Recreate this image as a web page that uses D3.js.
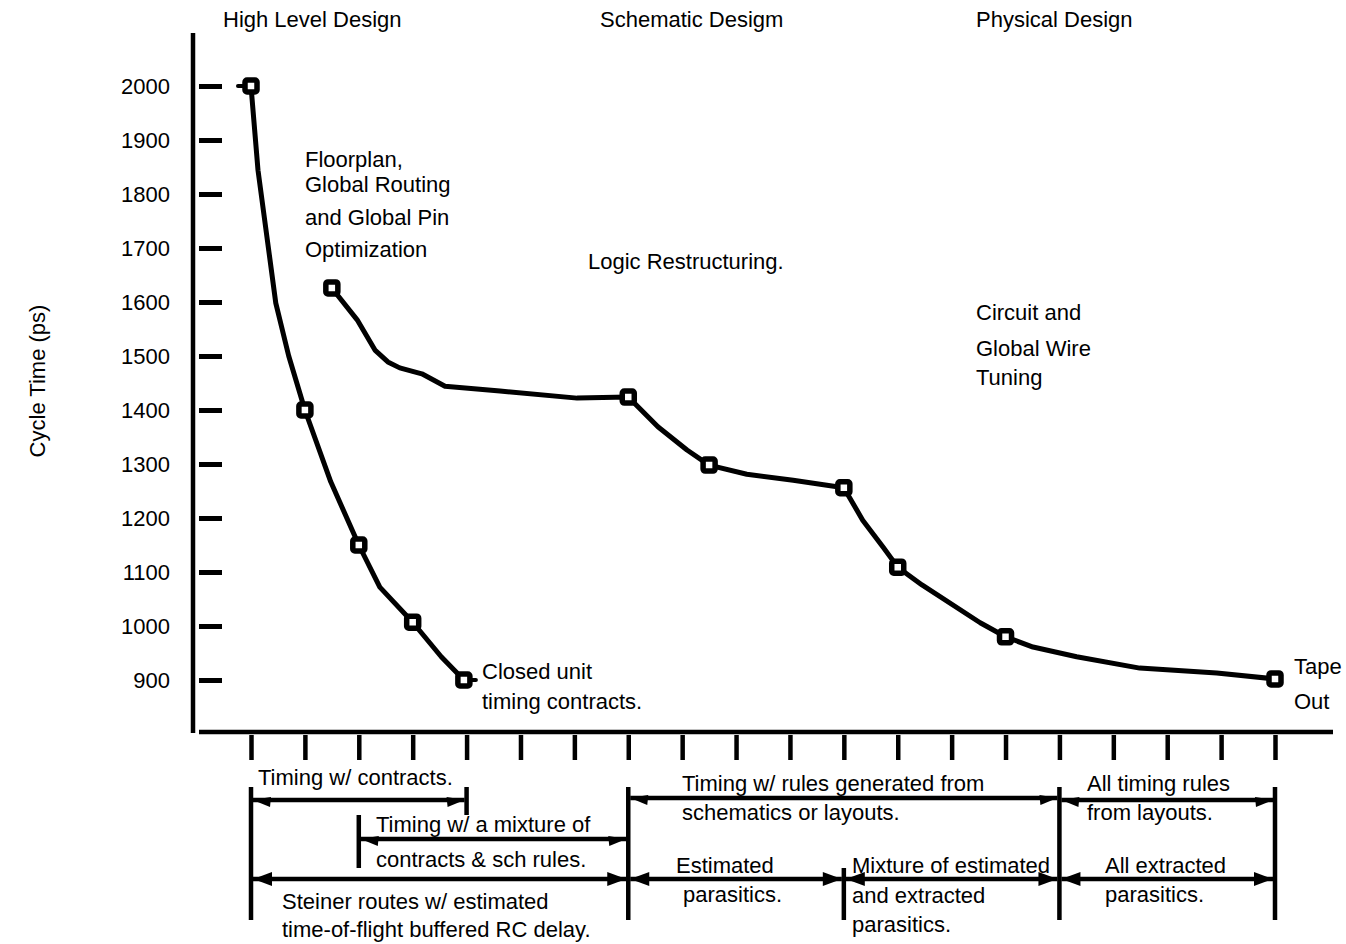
<!DOCTYPE html>
<html><head><meta charset="utf-8">
<script src="https://cdn.jsdelivr.net/npm/d3@7/dist/d3.min.js"></script>
<style>
html,body{margin:0;padding:0;background:#fff;}
svg{display:block;}
text{font-family:"Liberation Sans",Arial,sans-serif;font-size:22px;fill:#000;}
</style></head>
<body>
<svg id="chart" width="1346" height="944"></svg>
<script>
// ---------- data ----------
const yTicks = [2000,1900,1800,1700,1600,1500,1400,1300,1200,1100,1000,900];
const xTicks = [0,1,2,3,4,5,6,7,8,9,10,11,12,13,14,15,16,17,18,19];
// curve 1: [step index, cycle time ps]
const curve1 = [[0,2000],[0.13,1844],[0.46,1598],[0.70,1500],[1,1400],[1.48,1267],[2,1150],[2.39,1072],[3,1007],[3.53,943],[3.95,900]];
const markers1 = [[0,2000],[1,1400],[2,1150],[3,1007],[3.95,900]];
// curve 2
const curve2 = [[1.5,1626],[1.97,1567],[2.30,1511],[2.54,1489],[2.76,1478],[3.17,1467],[3.60,1444],[4.62,1435],[6.05,1422],[7,1424],
  [7.55,1369],[8.09,1326],[8.5,1298],[9.20,1281],[10.06,1270],[11,1256],[11.35,1196],[11.73,1146],[12,1109],[12.45,1076],
  [13.53,1006],[14,980],[14.51,961],[15.32,943],[16.49,922],[17.92,913],[19,902]];
const markers2 = [[1.5,1626],[7,1424],[8.5,1298],[11,1256],[12,1109],[14,980],[19,902]];
const phaseLabels = ["High Level Design","Schematic Desigm","Physical Design"];
const yTitle = "Cycle Time (ps)";
// bottom spans (in step index)
const spanFrom = [0,7,15,2,0,7,11,15];
const spanTo   = [4,15,19,7,7,11,15,19];
const spanText = [
  ["Timing w/ contracts."],
  ["Timing w/ rules generated from","schematics or layouts."],
  ["All timing rules","from layouts."],
  ["Timing w/ a mixture of","contracts & sch rules."],
  ["Steiner routes w/ estimated","time-of-flight buffered RC delay."],
  ["Estimated","parasitics."],
  ["Mixture of estimated","and extracted","parasitics."],
  ["All extracted","parasitics."]
];
const boundaryIdx = [0,2,4,7,11,15,19];

// ---------- layout ----------
const svg = d3.select("#chart");
const x = d3.scaleLinear().domain([0,19]).range([251,1275]);
const y = d3.scaleLinear().domain([900,2000]).range([680,86]);
const SW = 4.5;

// axes lines
svg.append("line").attr("x1",193).attr("x2",193).attr("y1",33).attr("y2",733)
  .attr("stroke","#000").attr("stroke-width",SW);
svg.append("line").attr("x1",199).attr("x2",1333).attr("y1",732).attr("y2",732)
  .attr("stroke","#000").attr("stroke-width",SW);

// y tick marks
const gyt = svg.append("g").attr("transform","translate(199,0)")
  .call(d3.axisRight(y).tickValues(yTicks).tickSize(23).tickFormat(""));
gyt.select(".domain").remove();
gyt.selectAll(".tick line").attr("stroke","#000").attr("stroke-width",5);
// y tick labels
const gyl = svg.append("g").attr("transform","translate(170,0)")
  .call(d3.axisLeft(y).tickValues(yTicks).tickSize(0).tickPadding(0).tickFormat(d3.format("d")));
gyl.select(".domain").remove();
gyl.selectAll(".tick text").attr("font-size",21).attr("font-family","Liberation Sans, Arial, sans-serif")
  .attr("fill","#000").attr("dy","0.35em");

// x ticks
const gx = svg.append("g").attr("transform","translate(0,735)")
  .call(d3.axisBottom(x).tickValues(xTicks).tickSize(25).tickFormat(""));
gx.select(".domain").remove();
gx.selectAll(".tick line").attr("stroke","#000").attr("stroke-width",SW);

// y title
svg.append("text").attr("transform","translate(45,381) rotate(-90)")
  .attr("text-anchor","middle").attr("font-size",21).text(yTitle);

// phase labels
const phaseX = [223,600,976];
phaseLabels.forEach((t,i)=>svg.append("text").attr("x",phaseX[i]).attr("y",27).text(t));

// annotations
function lines(arr, x0, ys){
  arr.forEach((t,i)=>svg.append("text").attr("x",x0).attr("y",ys[i]).text(t));
}
lines(["Floorplan,","Global Routing","and Global Pin","Optimization"],305,[167,192,225,257]);
lines(["Logic Restructuring."],588,[269]);
lines(["Circuit and","Global Wire","Tuning"],976,[320,356,385]);
lines(["Closed unit","timing contracts."],482,[679,709]);
lines(["Tape","Out"],1294,[674,709]);

// curves
const line = d3.line().x(d=>x(d[0])).y(d=>y(d[1])).curve(d3.curveLinear);
[curve1,curve2].forEach(c=>svg.append("path").attr("d",line(c)).attr("fill","none")
  .attr("stroke","#000").attr("stroke-width",5).attr("stroke-linejoin","round").attr("stroke-linecap","round"));
// small tails of end markers
svg.append("line").attr("x1",x(0)-13).attr("x2",x(0)).attr("y1",y(2000)).attr("y2",y(2000))
  .attr("stroke","#000").attr("stroke-width",4).attr("stroke-linecap","round");
svg.append("line").attr("x1",x(3.95)).attr("x2",x(3.95)+12).attr("y1",y(900)).attr("y2",y(900))
  .attr("stroke","#000").attr("stroke-width",4).attr("stroke-linecap","round");
// markers
svg.selectAll("rect.m").data(markers1.concat(markers2)).enter().append("rect")
  .attr("x",d=>x(d[0])-6).attr("y",d=>y(d[1])-6).attr("width",12).attr("height",12).attr("rx",2)
  .attr("fill","#fff").attr("stroke","#000").attr("stroke-width",5.5);

// bottom boundaries
const bTop = {0:787,2:815,4:787,7:787,11:868,15:787,19:787};
const bBot = {0:920,2:868,4:815,7:920,11:920,15:920,19:920};
boundaryIdx.forEach(b=>svg.append("line").attr("x1",x(b)).attr("x2",x(b))
  .attr("y1",bTop[b]).attr("y2",bBot[b]).attr("stroke","#000").attr("stroke-width",SW));

// arrows
const rowY = [800,798,800,839,879,879,879,879];
const full = [false,false,false,false,true,true,true,true];
function head(xt, yv, dir, isFull){
  const L = isFull?19:18;
  const pts = isFull ? [[0,0],[-L,-7],[-L,7]] : [[0,0],[-L,-3],[-L+1,7]];
  const pp = pts.map(q=>[xt + (dir>0? q[0] : -q[0]), yv+q[1]]);
  svg.append("polygon").attr("points",pp.map(q=>q.join(",")).join(" ")).attr("fill","#000");
}
spanFrom.forEach((f,i)=>{
  const x1 = x(f)+2, x2 = x(spanTo[i])-2, yy = rowY[i];
  svg.append("line").attr("x1",x1).attr("x2",x2).attr("y1",yy).attr("y2",yy)
    .attr("stroke","#000").attr("stroke-width",SW);
  head(x1,yy,-1,full[i]);
  head(x2,yy,1,full[i]);
});
// span texts
const textX = [258,682,1087,376,282,676,852,1105];
const textY = [[785],[791,820],[791,820],[832,867],[909,937],[873,902],[873,903,932],[873,902]];
spanText.forEach((arr,i)=>arr.forEach((t,j)=>{
  let xx = textX[i];
  if(i===5 && j===1) xx = 683;
  svg.append("text").attr("x",xx).attr("y",textY[i][j]).text(t);
}));
</script>
</body></html>
